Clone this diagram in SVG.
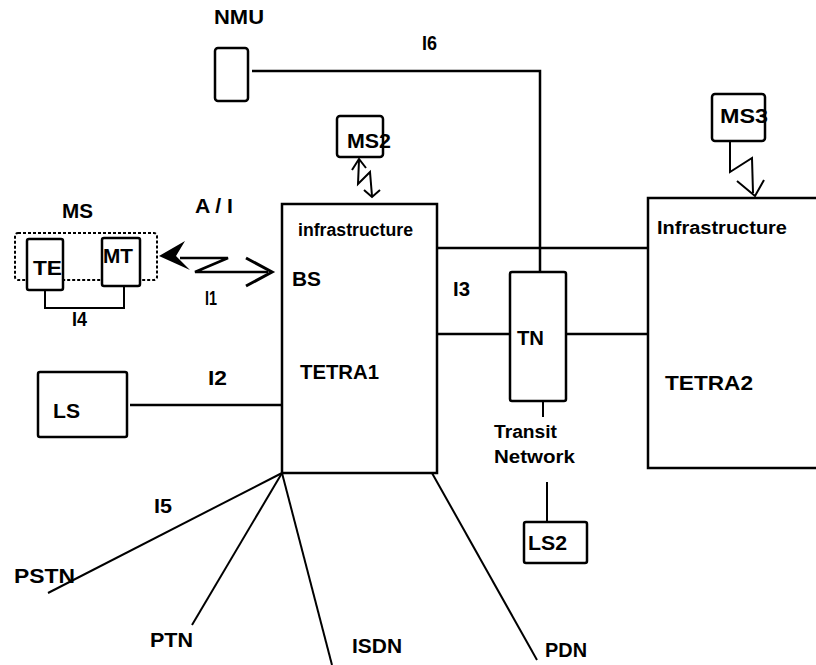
<svg xmlns="http://www.w3.org/2000/svg" width="816" height="665" viewBox="0 0 816 665">
<style>
text{font-family:"Liberation Sans",Arial,sans-serif;font-weight:bold;font-size:20px;fill:#000}
.sm{font-size:18px}
.box{fill:#fff;stroke:#000;stroke-width:2.5}
.thin{fill:none;stroke:#000;stroke-width:2}
.ln{fill:none;stroke:#000;stroke-width:2.5}
.fan{fill:none;stroke:#000;stroke-width:2}
.dash{fill:none;stroke:#000;stroke-width:2;stroke-dasharray:3 2}
</style>
<rect width="816" height="665" fill="#fff"/>
<g id="connectors">
  <polyline class="ln" points="252,71 540,71 540,272"/>
  <line class="ln" x1="130" y1="405" x2="282" y2="405"/>
  <line class="ln" x1="437" y1="248" x2="648" y2="248"/>
  <line class="ln" x1="437" y1="334" x2="510" y2="334"/>
  <line class="ln" x1="566" y1="334" x2="648" y2="334"/>
  <line class="thin" x1="543" y1="401" x2="543" y2="417"/>
  <line class="thin" x1="547" y1="482" x2="547" y2="522"/>
  <polyline class="thin" points="45,290 45,308 124,308 124,286"/>
  <line class="fan" x1="282" y1="473" x2="48" y2="593"/>
  <line class="fan" x1="282" y1="473" x2="192" y2="625"/>
  <line class="fan" x1="282" y1="473" x2="332" y2="665"/>
  <line class="fan" x1="432" y1="473" x2="537" y2="660"/>
  <g id="radio-ms">
    <polyline class="ln" points="180,258 228,258 195,272 268,272"/>
    <polygon points="159,256 185,241 176,256 190,270" fill="#000"/>
    <polyline fill="none" stroke="#000" stroke-width="3" points="246,258 272,272 246,286"/>
  </g>
  <g id="radio-ms2">
    <polyline class="thin" points="352,170 359,159 366,168"/>
    <polyline class="thin" points="359,160 358,184 370,172 372,196"/>
    <polyline class="thin" points="364,190 372,197 380,190"/>
  </g>
  <g id="radio-ms3">
    <polyline class="thin" points="730,142 730,172 752,158 753,193"/>
    <polyline class="thin" points="737,181 755,196 764,180"/>
  </g>
</g>
<g id="nmu">
  <rect class="box" x="215" y="48" width="33" height="53" rx="3"/>
  <text x="214" y="24" textLength="50" lengthAdjust="spacingAndGlyphs">NMU</text>
</g>
<text id="label-i6" x="422" y="50" textLength="15" lengthAdjust="spacingAndGlyphs">I6</text>
<g id="ms2">
  <rect class="box" x="337" y="116" width="46" height="41" rx="3"/>
  <text x="347" y="148" textLength="44" lengthAdjust="spacingAndGlyphs">MS2</text>
</g>
<g id="ms3">
  <rect class="box" x="712" y="94" width="53" height="47" rx="3"/>
  <text x="720" y="123" textLength="48" lengthAdjust="spacingAndGlyphs">MS3</text>
</g>
<g id="ms">
  <text x="62" y="218" textLength="31" lengthAdjust="spacingAndGlyphs">MS</text>
  <rect class="dash" x="15" y="233" width="142" height="47" rx="3"/>
  <g id="te">
    <rect class="box" x="27" y="239" width="36" height="51" rx="2"/>
    <text x="33" y="275" textLength="29" lengthAdjust="spacingAndGlyphs">TE</text>
  </g>
  <g id="mt">
    <rect class="box" x="102" y="238" width="38" height="48" rx="2"/>
    <text x="103" y="263" textLength="30" lengthAdjust="spacingAndGlyphs">MT</text>
  </g>
</g>
<text x="195" y="213" textLength="38" lengthAdjust="spacingAndGlyphs">A / I</text>
<text x="205" y="305" textLength="12" lengthAdjust="spacingAndGlyphs">I1</text>
<text x="72" y="326" textLength="15" lengthAdjust="spacingAndGlyphs">I4</text>
<g id="ls">
  <rect class="box" x="38" y="372" width="89" height="65" rx="2"/>
  <text x="53" y="418" textLength="27" lengthAdjust="spacingAndGlyphs">LS</text>
</g>
<text x="208" y="385" textLength="19" lengthAdjust="spacingAndGlyphs">I2</text>
<g id="tetra1">
  <rect class="box" x="282" y="204" width="155" height="269" stroke-width="3"/>
  <text class="sm" x="298" y="236" textLength="115" lengthAdjust="spacingAndGlyphs">infrastructure</text>
  <text x="292" y="286" textLength="29" lengthAdjust="spacingAndGlyphs">BS</text>
  <text x="300" y="379" textLength="79" lengthAdjust="spacingAndGlyphs">TETRA1</text>
</g>
<text x="453" y="296" textLength="17" lengthAdjust="spacingAndGlyphs">I3</text>
<g id="tn">
  <rect class="box" x="510" y="272" width="56" height="129" rx="2"/>
  <text x="517" y="345" textLength="27" lengthAdjust="spacingAndGlyphs">TN</text>
  <text class="sm" x="494" y="438" textLength="63" lengthAdjust="spacingAndGlyphs">Transit</text>
  <text class="sm" x="494" y="463" textLength="81" lengthAdjust="spacingAndGlyphs">Network</text>
</g>
<g id="ls2">
  <rect class="box" x="524" y="522" width="63" height="41" rx="2"/>
  <text x="528" y="550" textLength="39" lengthAdjust="spacingAndGlyphs">LS2</text>
</g>
<g id="tetra2">
  <rect class="box" x="648" y="198" width="172" height="270" stroke-width="3"/>
  <text class="sm" x="657" y="234" textLength="130" lengthAdjust="spacingAndGlyphs">Infrastructure</text>
  <text x="665" y="390" textLength="88" lengthAdjust="spacingAndGlyphs">TETRA2</text>
</g>
<text x="154" y="513" textLength="18" lengthAdjust="spacingAndGlyphs">I5</text>
<text x="14" y="583" textLength="61" lengthAdjust="spacingAndGlyphs">PSTN</text>
<text x="150" y="647" textLength="43" lengthAdjust="spacingAndGlyphs">PTN</text>
<text x="352" y="653" textLength="50" lengthAdjust="spacingAndGlyphs">ISDN</text>
<text x="545" y="657" textLength="42" lengthAdjust="spacingAndGlyphs">PDN</text>
</svg>
